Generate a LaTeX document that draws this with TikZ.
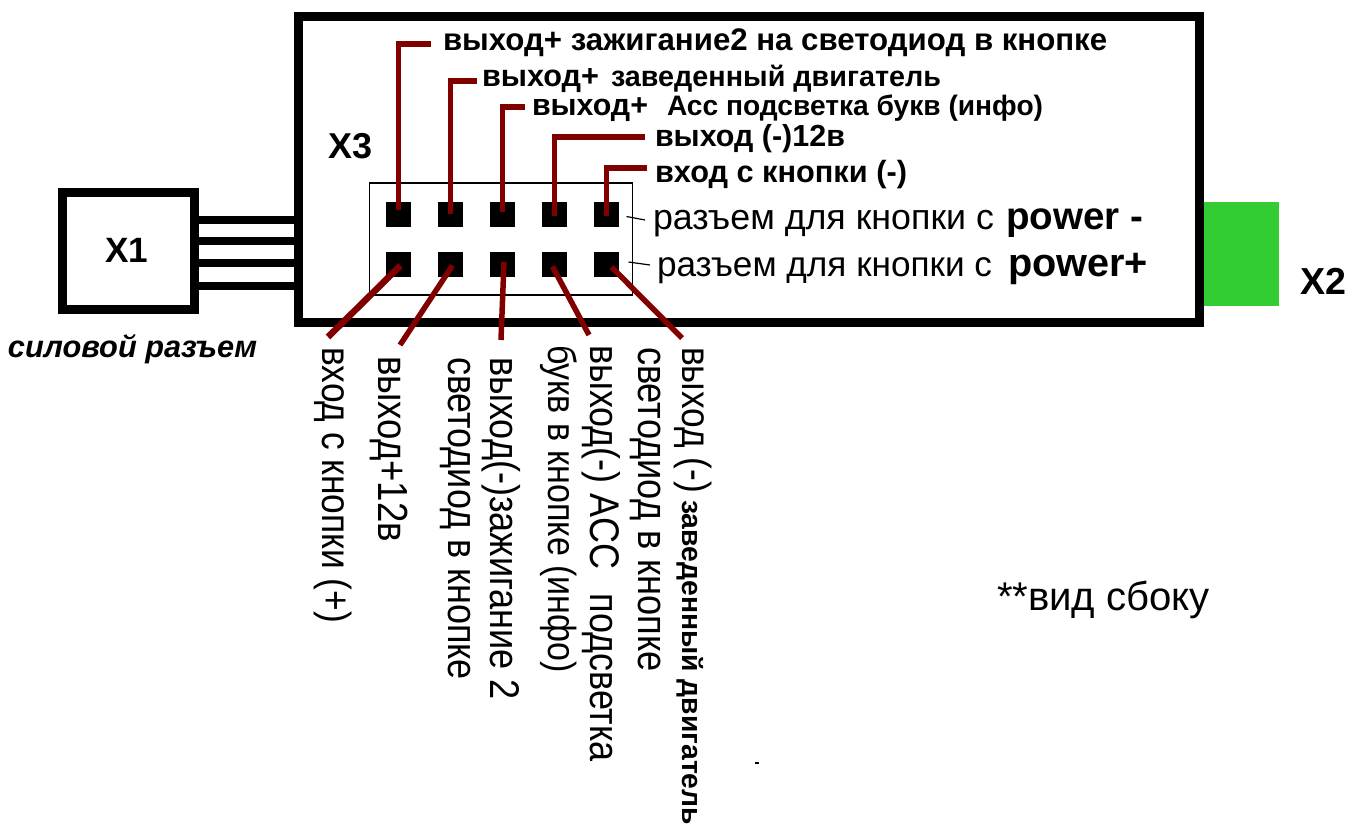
\documentclass[tikz,border=0pt]{standalone}
\usepackage{fontspec}
\usepackage{graphicx}
\setmainfont{Liberation Sans}
\newcommand\fit[2]{\resizebox{#1pt}{!}{#2}}
\newcommand\fitv[2]{\scalebox{1}[1.15]{\resizebox{#1pt}{!}{#2}}}
\definecolor{wirec}{HTML}{800000}
\definecolor{greenc}{HTML}{33CC33}
\tikzset{
  lab/.style={inner sep=0pt,outer sep=0pt,anchor=base west,text=black},
  vlab/.style={lab,rotate=-90},
  pin/.style={fill=black,inner sep=0pt,outer sep=0pt,minimum size=25pt,draw=none},
  wire/.style={draw=wirec,line width=5.5pt,line join=miter},
  heavy/.style={draw=black,line width=9pt,outer sep=0pt},
  lead/.style={draw=black,line width=8.5pt},
  thin line/.style={draw=black,line width=1.2pt}
}
\begin{document}
\begin{tikzpicture}[x=1pt,y=-1pt]
\useasboundingbox (0,0) rectangle (1354,830);
% X2 block
\node[fill=greenc,inner sep=0pt,outer sep=0pt,minimum width=76pt,minimum height=104pt,anchor=north west] (x2block) at (1203,202) {};
% main body
\node[heavy,fill=white,inner sep=0pt,minimum width=901pt,minimum height=306pt,anchor=north west] (body) at (298.5,16.5) {};
% X1 block
\node[heavy,inner sep=0pt,minimum width=132pt,minimum height=117pt,anchor=north west] (x1block) at (62.5,192.5) {};
% leads
\coordinate (la) at (199,220); \coordinate (lb) at (199,241); \coordinate (lc) at (199,263); \coordinate (ld) at (199,286);
\coordinate (ra) at (295,220); \coordinate (rb) at (295,241); \coordinate (rc) at (295,263); \coordinate (rd) at (295,286);
\draw[lead] (la) -- (ra);
\draw[lead] (lb) -- (rb);
\draw[lead] (lc) -- (rc);
\draw[lead] (ld) -- (rd);
% connector outline
\node[thin line,inner sep=0pt,outer sep=0pt,minimum width=263pt,minimum height=112pt,anchor=north west] (conn) at (369.5,183) {};
% pins
\node[pin] (p1) at (398.5,214.5) {};
\node[pin] (p2) at (450.5,214.5) {};
\node[pin] (p3) at (502.5,214.5) {};
\node[pin] (p4) at (554.5,214.5) {};
\node[pin] (p5) at (606.5,214.5) {};
\node[pin] (p6) at (398.5,264.5) {};
\node[pin] (p7) at (450.5,264.5) {};
\node[pin] (p8) at (502.5,264.5) {};
\node[pin] (p9) at (554.5,264.5) {};
\node[pin] (p10) at (606.5,264.5) {};
% top wires
\coordinate (t1) at (431,44); \coordinate (t2) at (477,81); \coordinate (t3) at (525,107); \coordinate (t4) at (645,137); \coordinate (t5) at (647,168);
\draw[wire] (p1.center) ++(0,-5) |- (t1);
\draw[wire] (p2.center) ++(0,-1) |- (t2);
\draw[wire] (p3.center) ++(0,-3) |- (t3);
\draw[wire] (p4.center) ++(0,1) |- (t4);
\draw[wire] (p5.center) ++(0,1) |- (t5);
% bottom wires
\coordinate (b1) at (328,337); \coordinate (b2) at (400,345); \coordinate (b3) at (501,340); \coordinate (b4) at (589,335); \coordinate (b5) at (682,338);
\draw[wire,line width=6.5pt] (p6.center) ++(2,1) -- (b1);
\draw[wire] (p7.center) ++(2,1) -- (b2);
\draw[wire] (p8.center) ++(1.5,-2.5) -- (b3);
\draw[wire] (p9.center) ++(-2,2) -- (b4);
\draw[wire] (p10.center) ++(5,2.5) -- (b5);
% ticks
\coordinate (tk1) at (645,220); \coordinate (tk2) at (650,265);
\draw[thin line] (conn.east |- p5) ++(-6,2) -- (tk1);
\draw[thin line] (conn.east |- p10) ++(-4,-2.5) -- (tk2);
% titles
\node[lab,font=\bfseries] (nx1) at (105,262) {\fit{43}{X1}};
\node[lab,font=\bfseries] (nx2) at (1300,294) {\fit{46}{X2}};
\node[lab,font=\bfseries] (nx3) at (328,158) {\fit{44}{X3}};
\node[lab,font=\bfseries\itshape] (ncap) at (8,357) {\fit{249}{силовой разъем}};
\node[lab] (nview) at (997,610) {\fit{213}{**вид сбоку}};
\node[inner sep=0pt,fill=black,minimum width=4pt,minimum height=2pt] (ndot) at (757,763) {};
% horizontal labels
\node[lab,font=\bfseries] (l1) at (443,50) {\fit{664}{выход+ зажигание2 на светодиод в кнопке}};
\node[lab,font=\bfseries] (l2) at (482,86) {\fit{117}{выход+}\hspace{12pt}\fit{330}{заведенный двигатель}};
\node[lab,font=\bfseries] (l3) at (532,115) {\fit{116}{выход+}\hspace{19pt}\fit{376}{Асс подсветка букв (инфо)}};
\node[lab,font=\bfseries] (l4) at (655,146) {\fit{190}{выход (-)12в}};
\node[lab,font=\bfseries] (l5) at (655,182) {\fit{252}{вход с кнопки (-)}};
\node[lab] (l6) at (653,229) {\fit{341}{разъем для кнопки с}\hspace{12pt}\textbf{\fit{137}{power -}}};
\node[lab] (l7) at (657,276) {\fit{335}{разъем для кнопки с}\hspace{16pt}\textbf{\fit{140}{power+}}};
% vertical labels
\node[vlab] (v1) at (322,347) {\fitv{276}{вход с кнопки (+)}};
\node[vlab] (v2) at (378,356) {\fitv{186}{выход+12в}};
\node[vlab] (v3) at (448,357) {\fitv{323}{светодиод в кнопке}};
\node[vlab] (v4) at (490,357) {\fitv{343}{выход(-)зажигание 2}};
\node[vlab] (v5) at (548,345) {\fitv{328}{букв в кнопке (инфо)}};
\node[vlab] (v6) at (590,345) {\fitv{417}{выход(-) АСС\hspace{0.4em} подсветка}};
\node[vlab] (v7) at (638,347) {\fitv{325}{светодиод в кнопке}};
\node[vlab] (v8) at (682,347) {\fitv{146}{выход (-)}\hspace{7pt}\textbf{\fit{325}{заведенный двигатель}}};
\end{tikzpicture}
\end{document}
